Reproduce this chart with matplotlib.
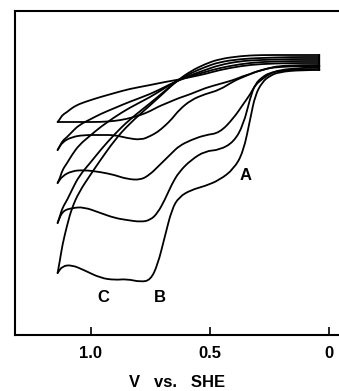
import numpy as np
import matplotlib
matplotlib.use("Agg")
import matplotlib.pyplot as plt
from matplotlib.path import Path
from matplotlib.patches import PathPatch

plt.rcParams['font.family'] = ['Liberation Sans', 'DejaVu Sans']

# data ---------------------------------------------------------------------
# forward sweep (0 V -> 1.14 V), potential in V vs. SHE
e_fwd = [0.04, 0.12, 0.21, 0.25, 0.28, 0.31, 0.33, 0.36, 0.40, 0.46, 0.52,
         0.58, 0.63, 0.66, 0.69, 0.72, 0.75, 0.79, 0.85, 0.90, 0.96, 1.03,
         1.08, 1.12, 1.14]
# current (arb. units), one list per cycle, smallest first
i_fwd_1 = [-0.5, -0.5, -0.6, -0.8, -1.0, -1.2, -1.4, -1.6, -2.0, -2.4, -2.8,
           -3.4, -3.8, -4.1, -4.4, -4.7, -5.1, -5.5, -5.9, -6.1, -6.2, -6.2,
           -6.2, -6.2, -6.2]
i_fwd_2 = [-0.6, -0.6, -0.7, -0.8, -1.0, -1.2, -1.4, -1.7, -2.1, -3.0, -3.4,
           -4.0, -5.0, -5.9, -6.6, -7.2, -7.6, -8.0, -7.8, -7.5, -7.5, -7.5,
           -7.7, -8.2, -9.0]
i_fwd_3 = [-0.7, -0.8, -1.0, -1.4, -1.9, -2.5, -3.4, -4.4, -5.8, -7.3, -7.5,
           -8.0, -8.6, -9.3, -10.0, -10.7, -11.4, -12.0, -11.9, -11.5, -11.2,
           -11.0, -11.1, -11.6, -12.3]
i_fwd_4 = [-0.9, -0.9, -1.1, -1.3, -1.7, -2.4, -3.7, -6.5, -8.2, -9.0, -9.1,
           -10.0, -11.2, -12.4, -14.0, -15.3, -16.0, -16.2, -16.0, -15.8,
           -15.3, -14.7, -14.8, -15.1, -16.3]
i_fwd_5 = [-1.0, -1.0, -1.2, -1.6, -2.2, -3.5, -5.8, -9.2, -10.9, -12.0,
           -12.6, -13.0, -13.7, -14.9, -17.7, -20.5, -22.0, -22.2, -21.9,
           -22.0, -21.8, -21.0, -20.5, -20.6, -21.3]

# reverse sweep (1.14 V -> 0 V)
e_rev = [1.14, 1.13, 1.12, 1.10, 1.08, 1.05, 1.00, 0.96, 0.90, 0.84, 0.75,
         0.69, 0.64, 0.58, 0.52, 0.46, 0.37, 0.29, 0.16, 0.04]
i_rev_1 = [-6.2, -5.9, -5.5, -5.2, -4.8, -4.4, -4.0, -3.7, -3.3, -2.9, -2.5,
           -2.2, -2.0, -1.7, -1.4, -1.0, -0.6, -0.4, -0.3, -0.3]
i_rev_2 = [-9.0, -8.6, -8.1, -7.7, -7.2, -6.5, -5.9, -5.4, -4.8, -4.2, -3.4,
           -2.7, -2.1, -1.6, -1.2, -0.8, -0.4, -0.2, -0.1, -0.1]
i_rev_3 = [-12.3, -11.8, -11.0, -10.3, -9.5, -8.5, -7.5, -6.7, -5.7, -4.8,
           -3.7, -2.8, -2.1, -1.5, -1.0, -0.5, -0.1, 0.0, 0.1, 0.1]
i_rev_4 = [-16.3, -15.6, -14.8, -14.0, -13.0, -11.6, -10.2, -9.0, -7.4, -6.0,
           -4.3, -3.1, -2.1, -1.3, -0.7, -0.2, 0.1, 0.2, 0.3, 0.3]
i_rev_5 = [-21.3, -20.0, -18.5, -16.5, -14.8, -13.2, -11.4, -10.0, -8.0,
           -6.4, -4.5, -3.2, -2.1, -1.1, -0.4, 0.1, 0.4, 0.5, 0.5, 0.5]

peak_labels = ['A', 'B', 'C']
peak_e = [0.35, 0.71, 0.95]
peak_i = [-11.6, -23.7, -23.7]

xticks = [1.0, 0.5, 0.0]
xticklabels = ['1.0', '0.5', '0']
# -------------------------------------------------------------------------


def smooth_path(xs, ys):
    # quadratic segments through midpoints, ends kept sharp
    pts = list(zip(xs, ys))
    verts = [pts[0]]
    codes = [Path.MOVETO]
    for k in range(1, len(pts) - 1):
        mid = ((pts[k][0] + pts[k + 1][0]) / 2, (pts[k][1] + pts[k + 1][1]) / 2)
        verts += [pts[k], mid]
        codes += [Path.CURVE3, Path.CURVE3]
    verts.append(pts[-1])
    codes.append(Path.LINETO)
    return Path(verts, codes)


fwd = [i_fwd_1, i_fwd_2, i_fwd_3, i_fwd_4, i_fwd_5]
rev = [i_rev_1, i_rev_2, i_rev_3, i_rev_4, i_rev_5]

fig = plt.figure(figsize=(3.39, 3.91), dpi=100)
ax = fig.add_axes([15 / 339, 56 / 391, 324 / 339, 324 / 391])

for i_f, i_r in zip(fwd, rev):
    for xs, ys in [(e_fwd, i_f), (e_rev, i_r)]:
        ax.add_patch(PathPatch(smooth_path(xs, ys), fill=False,
                               edgecolor='black', lw=1.3, joinstyle='round',
                               capstyle='round'))
    # closing segment at the switching potential
    ax.plot([e_rev[-1], e_fwd[0]], [i_r[-1], i_f[0]], color='black', lw=1.3)

for lab, e, cur in zip(peak_labels, peak_e, peak_i):
    ax.text(e, cur, lab, fontsize=12, fontweight='bold', ha='center', va='center')

ax.set_xlim(1.319, -0.042)
ax.set_ylim(-27.5, 4.9)

ax.spines['right'].set_visible(False)
for s in ['left', 'top', 'bottom']:
    ax.spines[s].set_linewidth(1.5)

ax.set_xticks(xticks)
ax.set_xticklabels(xticklabels, fontweight='bold', fontsize=12)
ax.tick_params(axis='x', direction='in', length=6, width=1.2, pad=8)
ax.set_yticks([])
ax.set_xlabel('V   vs.   SHE', fontweight='bold', fontsize=12, labelpad=10)

fig.savefig('out.png', dpi=100)
